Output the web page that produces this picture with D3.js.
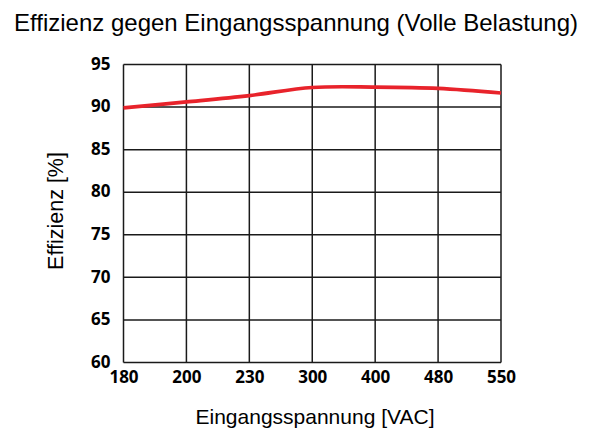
<!DOCTYPE html>
<html>
<head>
<meta charset="utf-8">
<script src="https://cdn.jsdelivr.net/npm/d3@7"></script>
<style>
  html, body { margin: 0; padding: 0; background: #fff; }
  svg { display: block; }
</style>
</head>
<body>
<svg id="chart" width="590" height="435"></svg>
<script>
// Input voltage categories (VAC) and measured efficiency at full load (%)
const voltages = ["180", "200", "230", "300", "400", "480", "550"];
const efficiency = [89.9, 90.6, 91.35, 92.3, 92.35, 92.2, 91.65];
const yTicks = [60, 65, 70, 75, 80, 85, 90, 95];

const titleText = "Effizienz gegen Eingangsspannung (Volle Belastung)";
const xLabel = "Eingangsspannung [VAC]";
const yLabel = "Effizienz [%]";

const svg = d3.select("#chart");
const margin = { left: 123.5, right: 89, top: 64.5, bottom: 72.5 };
const W = 590, H = 435;
const innerW = W - margin.left - margin.right;
const innerH = H - margin.top - margin.bottom;

const x = d3.scalePoint().domain(voltages).range([0, innerW]);
const y = d3.scaleLinear().domain([60, 95]).range([innerH, 0]);

const g = svg.append("g").attr("transform", `translate(${margin.left},${margin.top})`);

// Grid lines
g.append("g").selectAll("line.h").data(yTicks).join("line")
  .attr("x1", 0).attr("x2", innerW)
  .attr("y1", d => y(d)).attr("y2", d => y(d))
  .attr("stroke", "#1a1a1a").attr("stroke-width", 1.5);
g.append("g").selectAll("line.v").data(voltages).join("line")
  .attr("x1", d => x(d)).attr("x2", d => x(d))
  .attr("y1", 0).attr("y2", innerH)
  .attr("stroke", "#1a1a1a").attr("stroke-width", 1.5);

// Axes (labels only, the grid acts as frame)
const tickFont = "'Open Sans', sans-serif";
const yAxis = g.append("g").call(d3.axisLeft(y).tickValues(yTicks).tickSize(0).tickPadding(13));
yAxis.select(".domain").remove();
yAxis.selectAll("text")
  .attr("font-family", tickFont).attr("font-weight", 700).attr("font-size", 17)
  .attr("fill", "#000").attr("dy", "0.28em");

const xAxis = g.append("g").attr("transform", `translate(0,${innerH})`)
  .call(d3.axisBottom(x).tickSize(0).tickPadding(8));
xAxis.select(".domain").remove();
xAxis.selectAll("text")
  .attr("font-family", tickFont).attr("font-weight", 700).attr("font-size", 17)
  .attr("fill", "#000");

// Efficiency curve
const line = d3.line()
  .x((d, i) => x(voltages[i]))
  .y(d => y(d))
  .curve(d3.curveCatmullRom.alpha(0.5));
g.append("path").datum(efficiency)
  .attr("d", line)
  .attr("fill", "none")
  .attr("stroke", "#e8232b")
  .attr("stroke-width", 3.7)
  .attr("stroke-linecap", "butt");

// Titles
const textFont = "'Liberation Sans', Arial, sans-serif";
svg.append("text")
  .attr("x", 296).attr("y", 31)
  .attr("text-anchor", "middle")
  .attr("font-family", textFont).attr("font-size", 24)
  .attr("fill", "#000")
  .text(titleText);

svg.append("text")
  .attr("x", 315).attr("y", 424)
  .attr("text-anchor", "middle")
  .attr("font-family", textFont).attr("font-size", 21)
  .attr("fill", "#000")
  .text(xLabel);

svg.append("text")
  .attr("transform", "translate(63,211) rotate(-90)")
  .attr("text-anchor", "middle")
  .attr("font-family", textFont).attr("font-size", 21.5)
  .attr("fill", "#000")
  .text(yLabel);
</script>
</body>
</html>
